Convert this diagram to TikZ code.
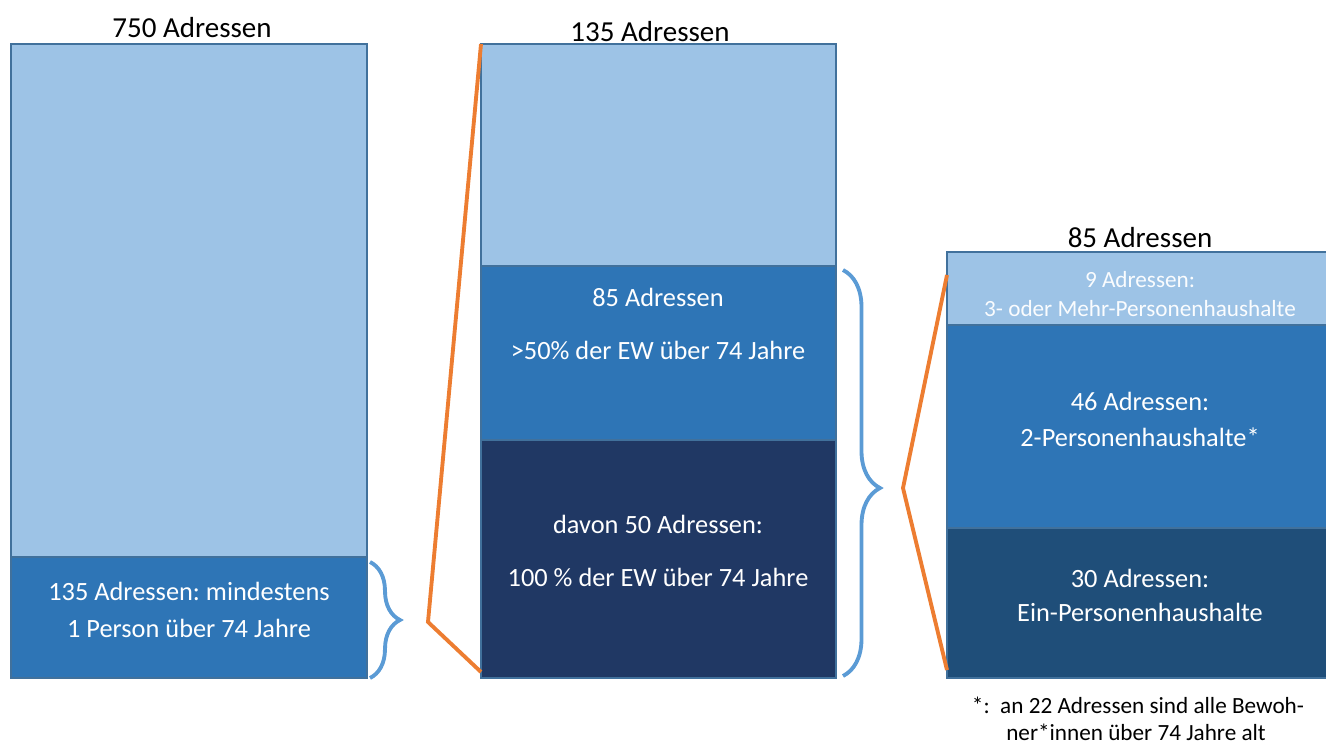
\documentclass[tikz,border=0pt]{standalone}
\usepackage{fontspec}
\setmainfont{Carlito}
\usetikzlibrary{decorations.pathreplacing}
\definecolor{lightbar}{HTML}{9DC3E6}
\definecolor{midbar}{HTML}{2E75B6}
\definecolor{navybar}{HTML}{203864}
\definecolor{darkbar}{HTML}{1F4E79}
\definecolor{barline}{HTML}{41719C}
\definecolor{zoomline}{HTML}{ED7D31}
\definecolor{bracecol}{HTML}{5B9BD5}
\tikzstyle{seg} = [draw=barline, line width=1.4pt]
\tikzstyle{title} = [font=\fontsize{16.5}{20}\selectfont, text=black, inner sep=0pt]
\tikzstyle{inner} = [font=\fontsize{15}{18}\selectfont, text=white, inner sep=0pt]
\tikzstyle{small} = [font=\fontsize{13.2}{16}\selectfont, inner sep=0pt]
\tikzstyle{zoom} = [draw=zoomline, line width=2.2pt]
\tikzstyle{curly} = [draw=bracecol, line width=2.2pt, decorate]
\frenchspacing

\begin{document}
\begin{tikzpicture}[x=0.02cm, y=-0.02cm]
    \useasboundingbox (0,0) rectangle (1326,744);
    % all addresses
    \draw[seg, fill=lightbar] (11,44) rectangle (367,557);
    \draw[seg, fill=midbar] (11,557) rectangle (367,678);
    \node[title] (all) at (192,28) {750 Adressen};
    \node[inner] (oldA) at (189,591) {135 Adressen: mindestens};
    \node[inner] (oldB) at (189,628) {1 Person über 74 Jahre};
    % 135 addresses
    \draw[seg, fill=lightbar] (481,44) rectangle (836,266);
    \draw[seg, fill=midbar] (481,266) rectangle (836,440);
    \draw[seg, fill=navybar] (481,440) rectangle (836,678);
    \node[title] (sub) at (650,32) {135 Adressen};
    \node[inner] (halfA) at (658,297) {85 Adressen};
    \node[inner] (halfB) at (658,350) {>50\% der EW über 74 Jahre};
    \node[inner] (fullA) at (658,524) {davon 50 Adressen:};
    \node[inner] (fullB) at (658,577) {100 \% der EW über 74 Jahre};
    % 85 addresses
    \draw[seg, fill=lightbar] (947,252) rectangle (1327,325);
    \draw[seg, fill=midbar] (947,325) rectangle (1327,528);
    \draw[seg, fill=darkbar] (947,528) rectangle (1327,678);
    \node[title] (part) at (1140,238) {85 Adressen};
    \node[small, text=white!95!lightbar] (threeA) at (1140,280) {9 Adressen:};
    \node[small, text=white!95!lightbar] (threeB) at (1140,309) {3- oder Mehr-Personenhaushalte};
    \node[inner] (twoA) at (1140,401) {46 Adressen:};
    \node[inner] (twoB) at (1140,437) {2-Personenhaushalte*};
    \node[inner] (oneA) at (1140,578) {30 Adressen:};
    \node[inner] (oneB) at (1140,612) {Ein-Personenhaushalte};
    \node[small, text=black] (noteA) at (1138,705) {*:\ \ an 22 Adressen sind alle Bewoh-};
    \node[small, text=black] (noteB) at (1136,732) {ner*innen über 74 Jahre alt};
    % braces and zoom lines
    \coordinate (b1top) at (370,562);
    \coordinate (b1bot) at (370,678);
    \coordinate (b2top) at (843,270);
    \coordinate (b2bot) at (843,676);
    \draw[curly, decoration={brace, amplitude=0.6cm}] (b1top) -- (b1bot);
    \draw[curly, decoration={brace, amplitude=0.74cm, aspect=0.537}] (b2top) -- (b2bot);
    \coordinate (z1) at (428,622);
    \coordinate (z2) at (903,488);
    \draw[zoom] (481,44) -- (z1) -- (481,672);
    \draw[zoom] (947,275) -- (z2) -- (947,670);
\end{tikzpicture}
\end{document}
